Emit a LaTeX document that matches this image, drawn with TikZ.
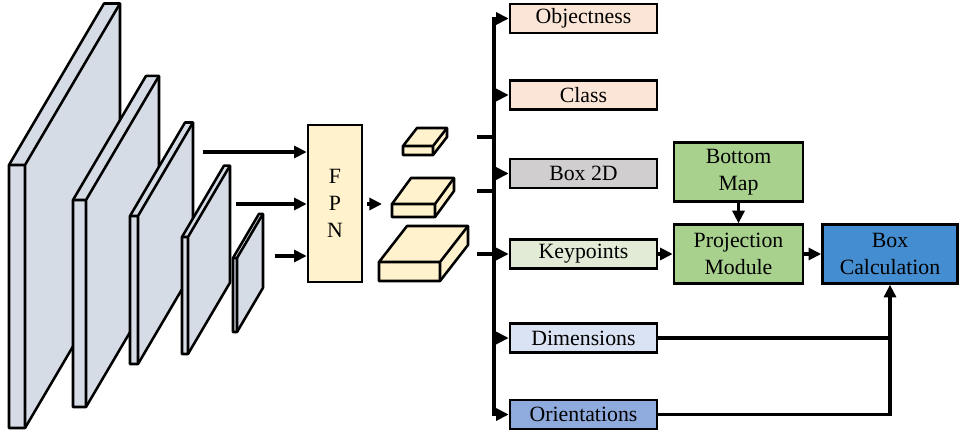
\documentclass[tikz,border=0pt]{standalone}
\usepackage{fontspec}
\setmainfont{Liberation Serif}
\usetikzlibrary{arrows.meta,positioning}

\definecolor{layergray}{HTML}{D6DCE5}
\definecolor{fpncream}{HTML}{FFF2CC}
\definecolor{peach}{HTML}{FBE5D6}
\definecolor{boxgray}{HTML}{D0CECE}
\definecolor{palegreen}{HTML}{E2EBD6}
\definecolor{paleblue}{HTML}{DAE3F3}
\definecolor{midblue}{HTML}{8FAADC}
\definecolor{leafgreen}{HTML}{A9D18E}
\definecolor{calcblue}{HTML}{448DD0}

\begin{document}
\begin{tikzpicture}[x=0.025cm,y=-0.025cm,line width=1.8pt,
    >={Triangle[length=9pt,width=8.5pt]}]
  \tikzset{head/.style={draw,fill=#1,minimum width=3.675cm,minimum height=0.725cm,
      inner sep=0pt,font=\fontsize{15.5}{19}\selectfont},
    stage/.style={draw,fill=#1,minimum height=1.47cm,inner sep=0pt,align=center,
      font=\fontsize{15.5}{19}\selectfont},
    link/.style={line width=2.3pt}}
  \useasboundingbox (0,0) rectangle (960,436);

  % backbone layers
  \foreach \xa/\xb/\ya/\yb/\d in {9/25/165/428/95, 73/86/200/407/73,
      130/138/216/364/55, 182/188/237/354/42, 233/237/258/332/26}{
    \pgfmathsetmacro\f{1.7*\d}
    \filldraw[fill=layergray,line join=round] (\xa,\ya) -- (\xa+\d,\ya-\f)
      -- (\xb+\d,\ya-\f) -- (\xb+\d,\yb-\f) -- (\xb,\yb) -- (\xa,\yb) -- cycle;
    \draw[line join=round] (\xb,\yb) -- (\xb,\ya) -- (\xa,\ya)
      (\xb,\ya) -- (\xb+\d,\ya-\f);
  }

  \node[draw,fill=fpncream,minimum width=1.35cm,minimum height=3.925cm,align=center,
    font=\fontsize{15.5}{19}\selectfont] (fpn) at (335,203.5) {F\\P\\N};

  \coordinate (c1) at (203,152);
  \coordinate (c2) at (236,204);
  \coordinate (c3) at (275,256);
  \foreach \c in {c1,c2,c3}
    \draw[link,->] (\c) -- (\c -| fpn.west);

  \coordinate (fo) at (367,204);
  \draw[link,->] (fo) -- ++(15,0);

  % pyramid outputs
  \foreach \xa/\xb/\ya/\yb/\d/\f in {403/433/146/155/14/18, 392/435/204/217/19/26,
      379/440/262/281/28/36}{
    \filldraw[fill=fpncream,line join=round] (\xa,\ya) -- (\xa+\d,\ya-\f)
      -- (\xb+\d,\ya-\f) -- (\xb+\d,\yb-\f) -- (\xb,\yb) -- (\xa,\yb) -- cycle;
    \draw[line join=round] (\xb,\yb) -- (\xb,\ya) -- (\xa,\ya)
      (\xb,\ya) -- (\xb+\d,\ya-\f);
  }

  % heads
  \node[head=peach] (obj) at (583.5,18.5) {Objectness};
  \node[head=peach] (cls) at (583.5,95) {Class};
  \node[head=boxgray] (box) at (583.5,173.5) {Box 2D};
  \node[head=palegreen] (kp) at (583.5,254) {Keypoints};
  \node[head=paleblue] (dim) at (583.5,338) {Dimensions};
  \node[head=midblue] (ori) at (583.5,414.5) {Orientations};

  \node[stage=leafgreen,minimum width=3.225cm] (bmap) at (738.5,172) {Bottom\\Map};
  \node[stage=leafgreen,minimum width=3.225cm] (proj) at (738.5,254) {Projection\\Module};
  \node[stage=calcblue,minimum width=3.375cm] (calc) at (890,254) {Box\\Calculation};

  \coordinate (tr) at (494,0);
  \coordinate (s1) at (477,137);
  \coordinate (s2) at (477,191);
  \coordinate (s3) at (477,254);

  \draw[link,<->] (obj.west) -- (obj.west -| tr) -- (ori.west -| tr) -- (ori.west);
  \foreach \n in {cls,box,dim}
    \draw[link,->] (\n.west -| tr) -- (\n.west);
  \draw[link] (s1) -- (s1 -| tr);
  \draw[link] (s2) -- (s2 -| tr);
  \draw[link,->] (s3) -- (kp.west);

  \draw[link,->] (kp) -- (proj);
  \draw[link,->] (bmap) -- (proj);
  \draw[link,->] (proj) -- (calc);
  \draw[link] (dim.east) -- (dim.east -| calc.south);
  \draw[link,->] (ori.east) -| (calc.south);
\end{tikzpicture}
\end{document}
